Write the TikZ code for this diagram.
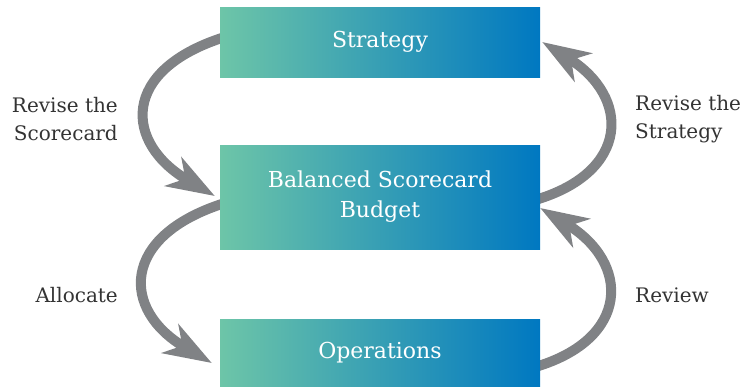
\documentclass[tikz,border=0pt]{standalone}
\usepackage{fontspec}
\setmainfont{DejaVu Serif}
\usetikzlibrary{arrows.meta,calc}
\pgfdeclarelayer{background}
\pgfsetlayers{background,main}
\definecolor{gleft}{HTML}{6DC5A8}
\definecolor{gright}{HTML}{0078C1}
\definecolor{arrowgray}{HTML}{808285}
\definecolor{labelgray}{HTML}{333333}
\tikzset{
  stagebox/.style={minimum width=320pt, inner sep=0pt, left color=gleft, right color=gright,
    text=white, font=\fontsize{22}{30}\selectfont, align=center},
  loopArrow/.style={draw=arrowgray, line width=10pt,
    -{Stealth[length=48pt,width=33pt,inset=14pt]}},
  sidelabel/.style={text=labelgray, font=\fontsize{20}{28}\selectfont, inner sep=0pt}
}
\begin{document}
\begin{tikzpicture}[x=1pt,y=-1pt]
\useasboundingbox (0,0) rectangle (743,386);
\node[stagebox, minimum height=70pt] (strat) at (380,42) {Strategy};
\node[stagebox, minimum height=104pt] (bsc) at (380,197) {Balanced Scorecard\\Budget};
\node[stagebox, minimum height=68pt] (ops) at (380,353) {Operations};

\node[sidelabel, anchor=east, align=right] (l1) at (118,119) {Revise the\\Scorecard};
\node[sidelabel, anchor=west, align=left] (l2) at (635,119) {Revise the\\Strategy};
\node[sidelabel, anchor=east] (l3) at (118,295) {Allocate};
\node[sidelabel, anchor=west] (l4) at (635,295) {Review};

\begin{pgfonlayer}{background}
\draw[loopArrow] ($(strat.west)+(5,-5)$) .. controls (120,70) and (124,143) .. ($(bsc.west)+(-5,-1)$);
\draw[loopArrow] ($(bsc.east)+(-5,3)$) .. controls (630,172) and (631,97) .. ($(strat.east)+(2,0)$);
\draw[loopArrow] ($(bsc.west)+(5,6)$) .. controls (120,236) and (121,310) .. ($(ops.west)+(-8,10)$);
\draw[loopArrow] ($(ops.east)+(-5,14)$) .. controls (630,339) and (631,263) .. ($(bsc.east)+(0,11)$);
\end{pgfonlayer}
\end{tikzpicture}
\end{document}
